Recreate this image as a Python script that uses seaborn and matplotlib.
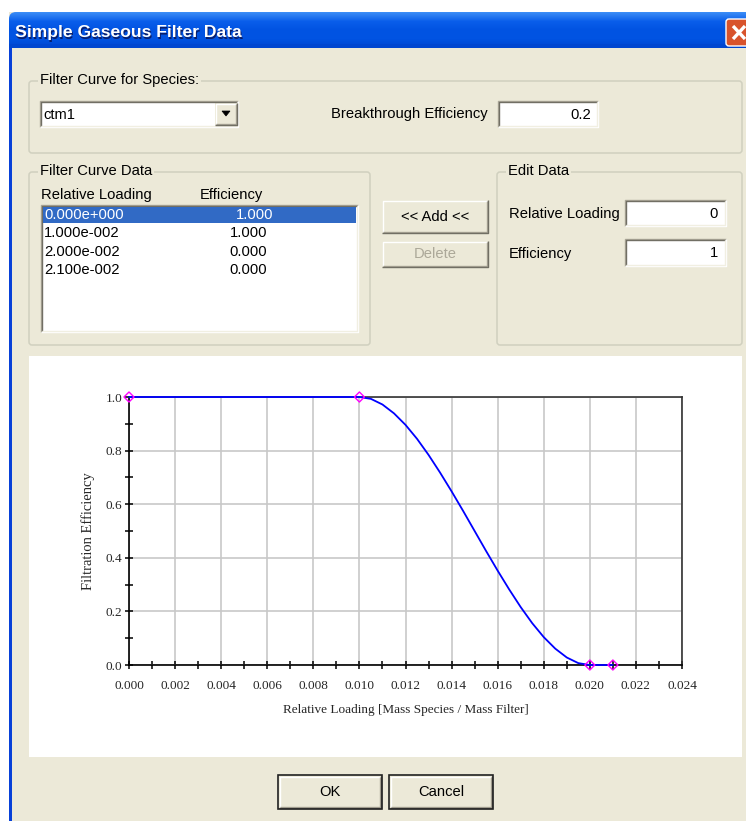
import numpy as np
import pandas as pd
import matplotlib
matplotlib.use("Agg")
import matplotlib.pyplot as plt
from matplotlib.patches import Rectangle, FancyBboxPatch, Polygon
from matplotlib.ticker import MultipleLocator, FormatStrFormatter
import seaborn as sns

SPECIES      = "ctm1"
BREAKTHROUGH = "0.2"
LOAD_PTS     = [0.000, 0.010, 0.020, 0.021]     # filter curve data points
EFF_PTS      = [1.000, 1.000, 0.000, 0.000]
EDIT_LOADING = "0"
EDIT_EFF     = "1"

# smooth curve drawn by the dialog (read at 0.0005 steps on the falling part)
CURVE_X = [0.0000, 0.0100, 0.0105, 0.0110, 0.0115, 0.0120, 0.0125, 0.0130,
           0.0135, 0.0140, 0.0145, 0.0150, 0.0155, 0.0160, 0.0165, 0.0170,
           0.0175, 0.0180, 0.0185, 0.0190, 0.0195, 0.0200, 0.0210]
CURVE_Y = [1.000, 1.000, 0.993, 0.972, 0.939, 0.896, 0.844, 0.784,
           0.718, 0.648, 0.575, 0.500, 0.425, 0.352, 0.282, 0.216,
           0.156, 0.104, 0.061, 0.028, 0.007, 0.000, 0.000]

BEIGE   = "#ECE9D8"
GROUPLN = "#D0D0BF"
SELBLUE = "#316AC5"
UI_FONT = "Liberation Sans"
CH_FONT = "Liberation Serif"
FS      = 10.6     # dialog text size

sns.set_style("white")
plt.rcParams["font.family"] = [UI_FONT, "DejaVu Sans"]

W, H = 746, 821
fig = plt.figure(figsize=(W / 100, H / 100), dpi=100)
fig.patch.set_facecolor("white")

bg = fig.add_axes([0, 0, 1, 1])
bg.set_xlim(0, W); bg.set_ylim(H, 0); bg.axis("off")


def sci3(v):
    m, e = f"{v:.3e}".split("e")
    return f"{m}e{e[0]}{int(e[1:]):03d}"


def box(x0, y0, x1, y1, fc, ec="none", lw=1, z=1):
    bg.add_patch(Rectangle((x0, y0), x1 - x0, y1 - y0, fc=fc, ec=ec, lw=lw, zorder=z))


def line(xs, ys, c, lw=1, z=3):
    bg.plot(xs, ys, color=c, lw=lw, zorder=z, solid_capstyle="butt")


def sunken(x0, y0, x1, y1):
    box(x0, y0, x1, y1, "white", z=2)
    line([x0, x0, x1], [y1, y0, y0], "#ACA899")
    line([x0 + 1, x0 + 1, x1 - 1], [y1 - 1, y0 + 1, y0 + 1], "#716F64")
    line([x0, x1, x1], [y1, y1, y0], "white")
    line([x0 + 1, x1 - 1, x1 - 1], [y1 - 1, y1 - 1, y0 + 1], "#F1EFE2")


def raised(x0, y0, x1, y1, outer=False):
    box(x0, y0, x1, y1, BEIGE, z=2)
    line([x0 + 1, x0 + 1, x1 - 1], [y1 - 1, y0 + 1, y0 + 1], "white")
    line([x0 + 1, x1 - 1, x1 - 1], [y1 - 1, y1 - 1, y0 + 1], "#ACA899")
    line([x0, x1, x1], [y1, y1, y0], "#716F64")
    if outer:
        box(x0 - 1, y0 - 1, x1 + 1, y1 + 1, "none", ec="#222222", lw=1.2, z=4)


def label(x, y, s, ha="left", color="black", z=4):
    return bg.text(x, y, s, fontsize=FS, va="center", ha=ha, color=color, zorder=z)


def group(x0, y0, x1, y1, text, lx):
    bg.add_patch(FancyBboxPatch((x0, y0), x1 - x0, y1 - y0,
                                boxstyle="round,pad=0,rounding_size=3",
                                fc="none", ec=GROUPLN, lw=1.1, zorder=2))
    t = label(lx, y0 - 1, text)
    t.set_bbox(dict(fc=BEIGE, ec="none", pad=1.5))


# ── window frame ───────────────────────────────────────────────────────
box(9, 12, W + 5, H + 5, BEIGE, z=0)
grad = np.linspace(0, 1, 36)[:, None]
tb_cmap = matplotlib.colors.LinearSegmentedColormap.from_list(
    "xp", ["#3A8CF6", "#0A5EEB", "#0153E2", "#0153E2", "#0046D0"])
im = bg.imshow(grad, cmap=tb_cmap, extent=[9, W + 5, 48, 12], aspect="auto", zorder=1)
clip = FancyBboxPatch((9, 12), W, 40, boxstyle="round,pad=0,rounding_size=7",
                      fc="none", ec="none", transform=bg.transData)
bg.add_patch(clip)
im.set_clip_path(clip)
box(9, 44, W + 5, 48, "#0046D0", z=1)
box(9, 48, 12, H + 5, "#0841D8", z=1)
bg.set_xlim(0, W); bg.set_ylim(H, 0)

bg.text(16, 34, "Simple Gaseous Filter Data", color="#0A1E6A", fontsize=12.6,
        fontweight="bold", va="center", zorder=3)
bg.text(15, 33, "Simple Gaseous Filter Data", color="white", fontsize=12.6,
        fontweight="bold", va="center", zorder=4)

bg.add_patch(FancyBboxPatch((726, 19), 30, 27, boxstyle="round,pad=0,rounding_size=3",
                            fc="#D8532C", ec="white", lw=1, zorder=4))
line([733, 745], [26, 39], "white", lw=2.4, z=5)
line([733, 745], [39, 26], "white", lw=2.4, z=5)

# ── species group ──────────────────────────────────────────────────────
group(29, 81, 742, 153, "Filter Curve for Species:", 40)
sunken(40, 101, 238, 127)
label(43, 115, SPECIES)
raised(215, 103, 237, 125)
bg.add_patch(Polygon([[222, 111], [230, 111], [226, 116]], closed=True,
                     fc="black", ec="black", lw=0.5, zorder=5))
label(488, 114, "Breakthrough Efficiency", ha="right")
sunken(498, 101, 598, 127)
label(591, 115, BREAKTHROUGH, ha="right")

# ── filter curve data list ─────────────────────────────────────────────
group(29, 172, 370, 345, "Filter Curve Data", 40)
label(41, 195, "Relative Loading")
label(200, 195, "Efficiency")
sunken(41, 205, 358, 332)
for i, (ld, ef) in enumerate(zip(LOAD_PTS, EFF_PTS)):
    yc = 215 + i * 18.3
    col = "black"
    if i == 0:
        box(43, yc - 8, 356, yc + 8, SELBLUE, z=3)
        col = "white"
    label(44, yc, sci3(ld), color=col)
    label(273 if i == 0 else 267, yc, f"{ef:.3f}", ha="right", color=col)

raised(382, 200, 488, 233)
label(435, 217, "<< Add <<", ha="center")
raised(382, 241, 488, 267)
label(435, 254, "Delete", ha="center", color="#ACA899")

# ── edit data group ────────────────────────────────────────────────────
group(497, 172, 742, 345, "Edit Data", 508)
label(509, 214, "Relative Loading")
sunken(625, 200, 726, 226)
label(718, 214, EDIT_LOADING, ha="right")
label(509, 254, "Efficiency")
sunken(625, 239, 726, 266)
label(718, 253, EDIT_EFF, ha="right")

# ── chart panel and buttons ────────────────────────────────────────────
box(29, 356, 742, 757, "white", z=1)

raised(279, 776, 381, 808, outer=True)
label(330, 792, "OK", ha="center", z=5)
raised(390, 776, 492, 808, outer=True)
label(441, 792, "Cancel", ha="center", z=5)

ax = fig.add_axes([129 / W, (H - 665) / H, (682 - 129) / W, (665 - 397) / H])
ax.set_facecolor("white")
curve = pd.DataFrame({"load": CURVE_X, "eff": CURVE_Y})
pts = pd.DataFrame({"load": LOAD_PTS, "eff": EFF_PTS})
sns.lineplot(data=curve, x="load", y="eff", ax=ax, color="#0000FF", lw=1.3,
             sort=False, clip_on=False, zorder=3)
sns.scatterplot(data=pts, x="load", y="eff", ax=ax, marker="D", s=26,
                facecolor="none", edgecolor="#FF00FF", linewidth=1.0,
                clip_on=False, zorder=4)

ax.set_xlim(0, 0.024); ax.set_ylim(0, 1.0)
ax.xaxis.set_major_locator(MultipleLocator(0.002))
ax.xaxis.set_minor_locator(MultipleLocator(0.001))
ax.yaxis.set_major_locator(MultipleLocator(0.2))
ax.yaxis.set_minor_locator(MultipleLocator(0.1))
ax.xaxis.set_major_formatter(FormatStrFormatter("%.3f"))
ax.yaxis.set_major_formatter(FormatStrFormatter("%.1f"))
ax.grid(True, which="major", color="#C8C8C8", lw=1.2)
ax.set_axisbelow(True)
for s in ax.spines.values():
    s.set_visible(True); s.set_color("#333333"); s.set_linewidth(1.2)
ax.spines["left"].set_color("black"); ax.spines["bottom"].set_color("black")
ax.tick_params(which="both", direction="inout", length=6, width=1.1,
               color="black", bottom=True, left=True, top=False, right=False)
ax.tick_params(axis="x", which="major", pad=8)
ax.tick_params(axis="y", which="major", pad=2)
for lab in ax.get_xticklabels() + ax.get_yticklabels():
    lab.set_fontfamily(CH_FONT); lab.set_fontsize(9.5)
ax.set_xlabel("Relative Loading [Mass Species / Mass Filter]",
              fontfamily=CH_FONT, fontsize=9.5)
ax.set_ylabel("Filtration Efficiency", fontfamily=CH_FONT, fontsize=10.5)
ax.xaxis.set_label_coords(0.5, -0.145)
ax.yaxis.set_label_coords(-0.062, 0.5)

fig.savefig("out.png", dpi=100, facecolor="white")
